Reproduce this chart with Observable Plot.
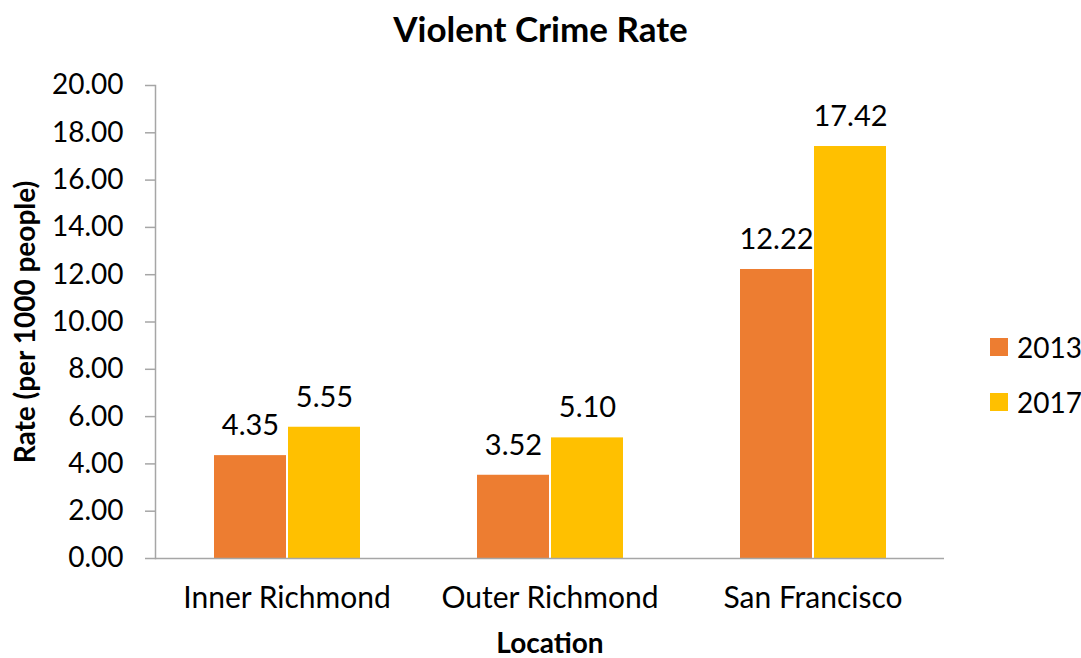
<!DOCTYPE html>
<html>
<head>
<meta charset="utf-8">
<script src="https://cdn.jsdelivr.net/npm/d3@7"></script>
<script src="https://cdn.jsdelivr.net/npm/@observablehq/plot@0.6"></script>
<style>
  html, body { margin: 0; padding: 0; background: #fff; }
  #wrap { position: relative; width: 1081px; height: 658px; font-family: Lato, "Open Sans", sans-serif; color: #000; }
  #title { height: 60px; line-height: 56px; text-align: center; font-weight: bold; font-size: 35px; }
  #legend { position: absolute; left: 990px; top: 330px; font-size: 28px; }
  .item { display: flex; align-items: center; height: 34px; margin-bottom: 21px; }
  .sw { width: 18px; height: 18px; margin-right: 9px; }
  g[aria-label$="axis label"] text, g[aria-label$="axis label"] { font-weight: bold; }
  g[aria-label="fx-axis label"] text { font-size: 28px; }
</style>
</head>
<body>
<div id="wrap">
  <div id="title">Violent Crime Rate</div>
  <div id="chart"></div>
  <div id="legend"></div>
</div>
<script>
const locations = ["Inner Richmond", "Outer Richmond", "San Francisco"];
const years = ["2013", "2017"];
const rate2013 = [4.35, 3.52, 12.22];
const rate2017 = [5.55, 5.10, 17.42];
const yTicks = [0, 2, 4, 6, 8, 10, 12, 14, 16, 18, 20];
const colors = ["#ED7D31", "#FFC000"];

const data = locations.flatMap((loc, i) => [
  {loc, year: years[0], rate: rate2013[i]},
  {loc, year: years[1], rate: rate2017[i]}
]);

const fmt = d => d.toFixed(2);

const chart = Plot.plot({
  width: 1081,
  height: 598,
  marginTop: 25,
  marginBottom: 100,
  marginLeft: 154,
  marginRight: 137,
  style: {fontFamily: "Lato, 'Open Sans', sans-serif", fontSize: "28px", color: "#000", background: "#fff"},
  fx: {domain: locations, padding: 0},
  x: {domain: years, paddingInner: 0, paddingOuter: 0.76, axis: null},
  y: {domain: [0, 20]},
  color: {domain: years, range: colors},
  marks: [
    Plot.barY(data, {fx: "loc", x: "year", y: "rate", fill: "year", insetLeft: 1, insetRight: 1}),
    Plot.text(data, {fx: "loc", x: "year", y: "rate", text: d => fmt(d.rate), dy: -30, fill: "#000", fontSize: 29}),
    Plot.ruleY([0], {stroke: "#a6a6a6", strokeWidth: 1.5}),
    Plot.frame({anchor: "left", facetAnchor: "left", stroke: "#a6a6a6", strokeWidth: 1.5}),
    Plot.axisY({ticks: yTicks, tickFormat: fmt, tickSize: 10, tickPadding: 22, stroke: "#a6a6a6", strokeWidth: 1.5,
      label: "Rate (per 1000 people)", labelAnchor: "center", labelArrow: "none", labelOffset: 140}),
    Plot.axisFx({anchor: "bottom", tickSize: 0, tickPadding: 28, fontSize: 30, label: "Location", labelAnchor: "center", labelArrow: "none", labelOffset: 94})
  ]
});
document.getElementById("chart").appendChild(chart);

const legend = document.getElementById("legend");
years.forEach((y, i) => {
  const item = document.createElement("div");
  item.className = "item";
  const sw = document.createElement("div");
  sw.className = "sw";
  sw.style.background = colors[i];
  const t = document.createElement("span");
  t.textContent = y;
  item.appendChild(sw);
  item.appendChild(t);
  legend.appendChild(item);
});
</script>
</body>
</html>
